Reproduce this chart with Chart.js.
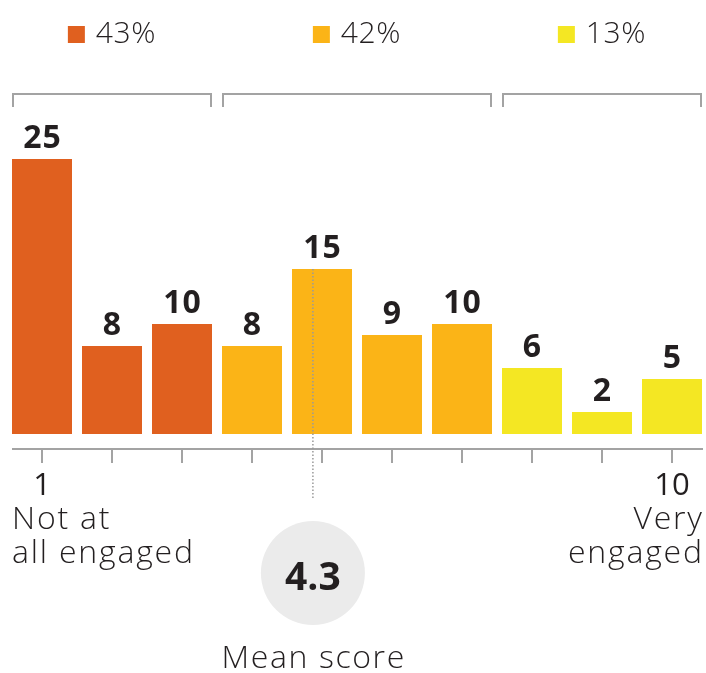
<!DOCTYPE html>
<html>
<head>
<meta charset="utf-8">
<script src="https://cdn.jsdelivr.net/npm/chart.js@4/dist/chart.umd.min.js"></script>
<style>
  html, body { margin: 0; padding: 0; background: #ffffff; overflow: hidden; }
  #wrap { width: 716px; height: 673px; }
  canvas { display: block; }
</style>
</head>
<body>
<div id="wrap"><canvas id="chart" width="716" height="673"></canvas></div>
<script>
// Engagement scores 1-10 and the share (%) of respondents giving each score
const scores = ['1', '2', '3', '4', '5', '6', '7', '8', '9', '10'];
const shares = [25, 8, 10, 8, 15, 9, 10, 6, 2, 5];

// Score bands: first and last score index in each band, and the band totals
const bandStart = [0, 3, 7];
const bandEnd = [2, 6, 9];
const bandTotals = ['43%', '42%', '13%'];
const bandColors = ['#e0601f', '#fbb417', '#f4e723'];

// End-of-scale captions
const lowCaption = ['Not at', 'all engaged'];
const highCaption = ['Very', 'engaged'];

// Mean engagement score
const meanScore = 4.3;
const meanCaption = 'Mean score';

const TEXT = '#231f20';
const GREY = '#a3a3a3';
const FONT = '"Open Sans", "Lato", sans-serif';

const barColors = scores.map((_, i) => {
  const b = bandStart.findIndex((s, k) => i >= s && i <= bandEnd[k]);
  return bandColors[b];
});

const decorations = {
  id: 'decorations',
  afterDatasetsDraw(chart) {
    const ctx = chart.ctx;
    const meta = chart.getDatasetMeta(0);
    const bars = meta.data;
    const xs = chart.scales.x;
    const ys = chart.scales.y;
    const base = ys.getPixelForValue(0);
    const left = i => bars[i].x - bars[i].width / 2;
    const right = i => bars[i].x + bars[i].width / 2;

    ctx.save();
    ctx.textBaseline = 'alphabetic';

    // value labels above bars
    ctx.fillStyle = TEXT;
    ctx.font = '700 32px ' + FONT;
    ctx.letterSpacing = '1px';
    ctx.textAlign = 'center';
    bars.forEach((b, i) => {
      ctx.fillText(String(shares[i]), b.x + 0.5, b.y - 11);
    });
    ctx.letterSpacing = '0px';

    // band brackets and band totals
    bandStart.forEach((s, k) => {
      const l = left(s), r = right(bandEnd[k]);
      ctx.strokeStyle = GREY;
      ctx.lineWidth = 2;
      ctx.beginPath();
      ctx.moveTo(l + 1, 107);
      ctx.lineTo(l + 1, 94);
      ctx.lineTo(r - 1, 94);
      ctx.lineTo(r - 1, 107);
      ctx.stroke();

      ctx.font = '300 30px ' + FONT;
      ctx.letterSpacing = '0.6px';
      const tw = ctx.measureText(bandTotals[k]).width;
      const sq = 17, gap = 11;
      const total = sq + gap + tw;
      const cx = (l + r) / 2;
      const x0 = cx - total / 2;
      ctx.fillStyle = bandColors[k];
      ctx.fillRect(x0, 26, sq, sq);
      ctx.fillStyle = TEXT;
      ctx.textAlign = 'left';
      ctx.fillText(bandTotals[k], x0 + sq + gap, 43);
      ctx.letterSpacing = '0px';
    });

    // baseline axis with a tick under every score
    const axisY = base + 15;
    ctx.strokeStyle = GREY;
    ctx.lineWidth = 2;
    ctx.beginPath();
    ctx.moveTo(left(0), axisY);
    ctx.lineTo(right(bars.length - 1) + 1, axisY);
    ctx.stroke();
    bars.forEach(b => {
      ctx.beginPath();
      ctx.moveTo(b.x, axisY);
      ctx.lineTo(b.x, axisY + 14);
      ctx.stroke();
    });

    // end-of-scale labels
    const last = bars.length - 1;
    ctx.fillStyle = TEXT;
    ctx.font = '400 31px ' + FONT;
    ctx.textAlign = 'center';
    ctx.fillText(scores[0], bars[0].x, axisY + 46);
    ctx.fillText(scores[last], bars[last].x, axisY + 46);
    ctx.font = '300 32px ' + FONT;
    ctx.letterSpacing = '1.8px';
    ctx.textAlign = 'left';
    lowCaption.forEach((t, j) => ctx.fillText(t, left(0), axisY + 80 + j * 34));
    ctx.textAlign = 'right';
    highCaption.forEach((t, j) => ctx.fillText(t, right(last) + 1.8, axisY + 80 + j * 34));
    ctx.letterSpacing = '0px';

    // mean marker: position along the 0-10 score span
    const p0 = xs.getPixelForValue(0);
    const p9 = xs.getPixelForValue(last);
    const mx = p0 + (meanScore / 10) * (p9 - p0);
    const cy = 573, rad = 52;
    const under = bars.find(b => mx >= b.x - b.width / 2 && mx <= b.x + b.width / 2);
    const topY = under ? under.y : axisY;

    ctx.strokeStyle = '#9a9a9a';
    ctx.lineWidth = 1.5;
    ctx.setLineDash([1.5, 2]);
    ctx.beginPath();
    ctx.moveTo(mx, topY);
    ctx.lineTo(mx, cy - rad - 21);
    ctx.stroke();
    ctx.setLineDash([]);

    ctx.fillStyle = '#ebebeb';
    ctx.beginPath();
    ctx.arc(mx, cy, rad, 0, Math.PI * 2);
    ctx.fill();

    ctx.fillStyle = TEXT;
    ctx.textAlign = 'center';
    ctx.font = '700 39px ' + FONT;
    ctx.fillText(meanScore.toFixed(1), mx, cy + 17);
    ctx.font = '300 32px ' + FONT;
    ctx.letterSpacing = '1.6px';
    ctx.fillText(meanCaption, mx + 0.8, 668);

    ctx.restore();
  }
};

new Chart(document.getElementById('chart'), {
  type: 'bar',
  data: {
    labels: scores,
    datasets: [{
      data: shares,
      backgroundColor: barColors,
      borderWidth: 0,
      barPercentage: 60 / 70,
      categoryPercentage: 1
    }]
  },
  options: {
    responsive: false,
    animation: false,
    devicePixelRatio: 1,
    layout: { padding: { left: 7, right: 9, top: 104, bottom: 239 } },
    plugins: { legend: { display: false }, tooltip: { enabled: false } },
    scales: {
      x: { display: false, offset: true, grid: { display: false } },
      y: { display: false, min: 0, max: 30 }
    }
  },
  plugins: [decorations]
});
</script>
</body>
</html>
